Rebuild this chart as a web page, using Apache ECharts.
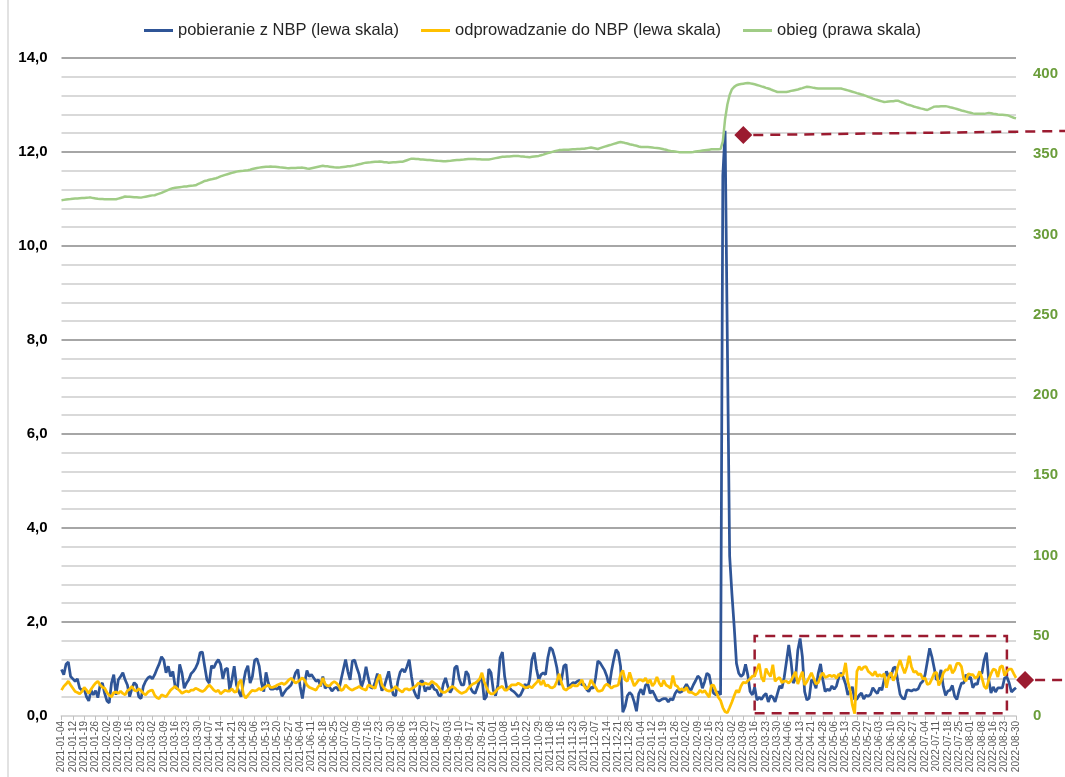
<!DOCTYPE html>
<html>
<head>
<meta charset="utf-8">
<script src="https://cdn.jsdelivr.net/npm/echarts@6/dist/echarts.min.js"></script>
<style>
  html, body { margin: 0; padding: 0; background: #fff; }
  #chart { width: 1065px; height: 777px; }
</style>
</head>
<body>
<div id="chart"></div>
<script>
// dni robocze NBP 2021-01-04 .. 2022-08-30 (bez weekendów i świąt)
const startDate = '2021-01-04';
const endDate = '2022-08-30';
const holidays = ['2021-01-01', '2021-01-06', '2021-04-05', '2021-05-03', '2021-06-03', '2021-11-01', '2021-11-11',
  '2022-01-06', '2022-04-18', '2022-05-03', '2022-06-16', '2022-08-15'];

// pobieranie z NBP (mld zł, lewa skala)
const pobieranie = [
  0.99, 0.88, 1.1, 1.15, 0.84, 0.79, 0.74, 0.79, 0.59, 0.55,
  0.57, 0.41, 0.32, 0.55, 0.45, 0.54, 0.39, 0.66, 0.7, 0.48,
  0.32, 0.28, 0.7, 0.88, 0.45, 0.77, 0.84, 0.92, 0.77, 0.66,
  0.41, 0.59, 0.71, 0.66, 0.41, 0.37, 0.63, 0.74, 0.81, 0.84,
  0.79, 0.88, 1.0, 1.11, 1.26, 1.19, 0.92, 1.06, 0.84, 0.95,
  0.63, 0.57, 1.1, 0.92, 0.59, 0.7, 0.77, 0.9, 0.95, 1.02,
  1.13, 1.35, 1.36, 1.06, 0.77, 0.7, 1.07, 1.02, 1.13, 1.2,
  1.1, 0.79, 0.99, 1.02, 0.55, 0.77, 1.06, 0.66, 0.52, 0.41,
  0.7, 0.95, 1.07, 0.7, 0.84, 1.19, 1.22, 1.06, 0.7, 0.52,
  0.93, 0.7, 0.57, 0.57, 0.59, 0.57, 0.63, 0.42, 0.5, 0.57,
  0.61, 0.66, 0.77, 0.92, 0.99, 0.63, 0.37, 0.7, 0.97, 0.84,
  0.88, 0.81, 0.74, 0.77, 0.63, 0.84, 0.59, 0.64, 0.61, 0.53,
  0.59, 0.61, 0.54, 0.77, 0.99, 1.2, 0.95, 0.77, 1.17, 1.19,
  1.02, 0.88, 0.61, 0.77, 1.05, 0.81, 0.61, 0.59, 0.72, 0.9,
  0.74, 0.54, 0.63, 0.79, 0.95, 0.66, 0.45, 0.43, 0.74, 0.93,
  1.0, 0.93, 1.05, 1.2, 0.84, 0.55, 0.43, 0.37, 0.74, 0.74,
  0.52, 0.61, 0.57, 0.68, 0.57, 0.55, 0.44, 0.43, 0.68, 0.81,
  0.63, 0.5, 0.59, 1.02, 1.07, 0.79, 0.66, 0.66, 0.95, 0.88,
  0.59, 0.51, 0.48, 0.61, 0.76, 0.84, 0.35, 0.41, 1.0, 0.92,
  0.55, 0.43, 0.66, 1.24, 1.36, 0.84, 0.57, 0.61, 0.55, 0.52,
  0.47, 0.41, 0.45, 0.55, 0.68, 0.59, 0.77, 1.2, 1.35, 1.0,
  0.77, 0.88, 0.92, 0.88, 1.24, 1.46, 1.41, 1.24, 1.02, 0.66,
  0.77, 1.06, 1.1, 0.61, 0.66, 0.71, 0.7, 0.74, 0.76, 0.66,
  0.68, 0.57, 0.52, 0.61, 0.59, 0.81, 1.17, 1.13, 1.05, 0.97,
  0.84, 0.63, 0.95, 1.2, 1.41, 1.35, 1.06, 0.08, 0.2, 0.43,
  0.5, 0.45, 0.3, 0.1, 0.47, 0.57, 0.45, 0.66, 0.68, 0.48,
  0.54, 0.45, 0.34, 0.32, 0.35, 0.37, 0.37, 0.3, 0.37, 0.34,
  0.48, 0.55, 0.5, 0.52, 0.59, 0.68, 0.59, 0.55, 0.66, 0.75,
  0.85, 0.8, 0.59, 0.73, 0.91, 0.87, 0.62, 0.48, 0.45, 0.52,
  0.45, 11.5, 12.45, 7.9, 3.4, 2.6, 1.9, 1.12, 0.91, 0.84,
  0.89, 1.1, 0.87, 0.52, 0.45, 0.61, 0.34, 0.4, 0.35, 0.43,
  0.48, 0.3, 0.43, 0.4, 0.3, 0.47, 0.64, 0.59, 0.82, 1.16,
  1.51, 1.16, 0.7, 0.8, 1.4, 1.65, 1.26, 0.52, 0.34, 0.38,
  0.77, 0.73, 0.59, 0.91, 1.11, 0.77, 0.52, 0.57, 0.54, 0.64,
  0.57, 0.64, 0.82, 0.92, 0.82, 0.68, 0.45, 0.54, 0.62, 0.35,
  0.36, 0.44, 0.49, 0.36, 0.44, 0.42, 0.46, 0.6, 0.53, 0.48,
  0.6, 0.55, 0.77, 0.95, 0.83, 0.83, 1.02, 1.04, 0.74, 0.46,
  0.38, 0.36, 0.55, 0.55, 0.53, 0.56, 0.55, 0.58, 0.69, 0.74,
  0.88, 1.16, 1.44, 1.26, 1.02, 0.77, 0.79, 0.98, 0.63, 0.44,
  0.53, 0.55, 0.65, 0.42, 0.35, 0.55, 0.7, 0.7, 0.88, 0.79,
  0.83, 0.6, 0.69, 0.67, 0.9, 0.91, 1.19, 1.35, 0.77, 0.49,
  0.62, 0.51, 0.6, 0.6, 0.6, 0.81, 0.83, 0.7, 0.51, 0.56,
  0.6
];

// odprowadzanie do NBP (mld zł, lewa skala)
const odprowadzanie = [
  0.55, 0.63, 0.68, 0.74, 0.66, 0.59, 0.52, 0.5, 0.47, 0.52,
  0.61, 0.55, 0.48, 0.57, 0.64, 0.7, 0.74, 0.66, 0.61, 0.59,
  0.5, 0.44, 0.41, 0.5, 0.51, 0.48, 0.53, 0.48, 0.45, 0.54,
  0.57, 0.63, 0.55, 0.53, 0.58, 0.54, 0.48, 0.45, 0.51, 0.54,
  0.55, 0.44, 0.39, 0.37, 0.45, 0.43, 0.41, 0.48, 0.55, 0.59,
  0.63, 0.58, 0.54, 0.48, 0.51, 0.53, 0.51, 0.55, 0.55, 0.59,
  0.57, 0.54, 0.52, 0.55, 0.61, 0.66, 0.61, 0.55, 0.52, 0.55,
  0.47, 0.51, 0.55, 0.53, 0.53, 0.58, 0.51, 0.52, 0.71, 0.77,
  0.47, 0.38, 0.44, 0.5, 0.55, 0.53, 0.55, 0.59, 0.55, 0.6,
  0.63, 0.66, 0.61, 0.61, 0.63, 0.66, 0.68, 0.7, 0.67, 0.71,
  0.77, 0.8, 0.76, 0.7, 0.73, 0.77, 0.81, 0.76, 0.66, 0.61,
  0.59, 0.57, 0.55, 0.63, 0.66, 0.81, 0.68, 0.64, 0.64, 0.7,
  0.73, 0.7, 0.64, 0.54, 0.57, 0.66, 0.61, 0.57, 0.55, 0.58,
  0.6, 0.63, 0.59, 0.57, 0.55, 0.66, 0.64, 0.61, 0.59, 0.77,
  0.88, 0.66, 0.59, 0.55, 0.53, 0.54, 0.57, 0.63, 0.58, 0.54,
  0.51, 0.57, 0.58, 0.55, 0.58, 0.61, 0.64, 0.7, 0.68, 0.67,
  0.7, 0.68, 0.68, 0.74, 0.7, 0.67, 0.61, 0.53, 0.5, 0.51,
  0.55, 0.6, 0.63, 0.6, 0.55, 0.51, 0.48, 0.5, 0.52, 0.59,
  0.64, 0.68, 0.7, 0.74, 0.79, 0.92, 0.73, 0.61, 0.51, 0.47,
  0.47, 0.52, 0.58, 0.61, 0.63, 0.55, 0.55, 0.61, 0.66, 0.66,
  0.66, 0.7, 0.67, 0.64, 0.6, 0.61, 0.63, 0.6, 0.66, 0.71,
  0.77, 0.66, 0.76, 0.64, 0.66, 0.61, 0.6, 0.63, 0.74, 0.9,
  0.7, 0.58, 0.55, 0.59, 0.61, 0.66, 0.64, 0.64, 0.7, 0.77,
  0.64, 0.57, 0.63, 0.77, 0.68, 0.61, 0.53, 0.53, 0.55, 0.64,
  0.68, 0.64, 0.59, 0.63, 0.64, 0.66, 0.88, 0.97, 0.77, 0.74,
  0.93, 0.77, 0.64, 0.7, 0.77, 0.77, 0.74, 0.81, 0.7, 0.77,
  0.64, 0.7, 0.83, 0.7, 0.63, 0.76, 0.66, 0.63, 0.59, 0.86,
  0.66, 0.63, 0.55, 0.58, 0.54, 0.61, 0.5, 0.51, 0.48, 0.45,
  0.48, 0.55, 0.5, 0.54, 0.47, 0.4, 0.66, 0.65, 0.52, 0.4,
  0.33, 0.18, 0.09, 0.07, 0.18, 0.3, 0.43, 0.55, 0.5, 0.64,
  0.72, 0.7, 0.75, 0.79, 0.85, 0.85, 0.99, 1.11, 0.82, 0.73,
  1.01, 0.91, 0.84, 1.09, 0.74, 0.79, 0.82, 0.71, 0.74, 0.74,
  0.7, 0.75, 0.85, 0.94, 0.68, 0.82, 0.94, 0.66, 0.73, 0.82,
  0.92, 0.8, 0.68, 0.71, 0.84, 0.92, 0.82, 0.84, 0.87, 0.84,
  0.87, 0.8, 0.89, 0.85, 0.89, 1.13, 0.73, 0.55, 0.23, 0.05,
  0.95, 1.05, 0.98, 1.04, 1.05, 0.95, 0.91, 0.86, 0.95, 0.84,
  0.88, 0.84, 0.9, 0.6, 0.83, 0.93, 0.75, 0.86, 1.05, 1.19,
  1.04, 0.91, 1.05, 1.28, 1.05, 0.93, 0.95, 0.88, 0.9, 0.79,
  0.81, 0.67, 0.69, 0.79, 0.91, 0.93, 0.65, 0.74, 0.91, 0.98,
  0.98, 1.09, 0.91, 0.98, 1.12, 1.12, 1.05, 0.79, 0.74, 0.9,
  0.88, 0.88, 0.81, 0.83, 0.95, 0.81, 0.63, 0.58, 0.77, 0.9,
  1.0, 0.98, 0.83, 1.04, 1.07, 0.86, 0.95, 1.0, 1.0, 0.9,
  0.81
];

// obieg (mld zł, prawa skala)
const obieg = [
  321.4, 321.6, 321.8, 322.0, 322.1, 322.3, 322.4, 322.5, 322.6, 322.7,
  322.8, 322.9, 323.0, 323.0, 322.7, 322.5, 322.3, 322.2, 322.1, 322.0,
  322.0, 322.0, 322.0, 322.0, 322.0, 322.4, 322.8, 323.2, 323.7, 323.6,
  323.5, 323.4, 323.3, 323.2, 323.1, 323.0, 323.3, 323.6, 323.9, 324.2,
  324.4, 324.5, 325.0, 325.5, 326.0, 326.6, 327.2, 327.8, 328.4, 328.9,
  329.1, 329.3, 329.5, 329.7, 329.9, 330.0, 330.2, 330.4, 330.5, 330.7,
  331.4, 332.0, 332.7, 333.4, 333.7, 334.1, 334.4, 334.8, 335.1, 335.6,
  336.2, 336.7, 337.2, 337.6, 338.0, 338.4, 338.8, 339.2, 339.4, 339.6,
  339.7, 339.9, 340.1, 340.4, 340.8, 341.1, 341.4, 341.7, 341.9, 342.1,
  342.3, 342.3, 342.4, 342.3, 342.3, 342.1, 341.9, 341.8, 341.6, 341.4,
  341.3, 341.4, 341.5, 341.5, 341.6, 341.6, 341.7, 341.5, 341.2, 341.0,
  341.3, 341.6, 341.9, 342.2, 342.5, 342.8, 342.6, 342.5, 342.3, 342.1,
  341.9, 341.8, 341.7, 341.9, 342.1, 342.3, 342.5, 342.6, 342.8, 343.1,
  343.5, 343.8, 344.1, 344.5, 344.8, 344.9, 345.0, 345.2, 345.3, 345.4,
  345.5, 345.3, 345.1, 345.0, 344.8, 344.9, 345.0, 345.1, 345.2, 345.3,
  345.3, 345.8, 346.3, 346.8, 347.3, 347.2, 347.1, 347.0, 346.8, 346.7,
  346.6, 346.5, 346.4, 346.3, 346.1, 346.0, 345.9, 345.8, 345.7, 345.6,
  345.8, 345.9, 346.1, 346.3, 346.4, 346.5, 346.6, 346.7, 346.9, 347.0,
  347.0, 347.0, 347.0, 346.9, 346.9, 346.8, 346.8, 346.7, 346.7, 347.0,
  347.3, 347.6, 347.9, 348.2, 348.4, 348.5, 348.6, 348.7, 348.8, 348.9,
  349.0, 348.9, 348.7, 348.6, 348.4, 348.3, 348.2, 348.4, 348.6, 348.8,
  349.0, 349.4, 349.8, 350.3, 350.7, 351.1, 351.5, 351.9, 352.3, 352.6,
  352.7, 352.8, 352.9, 352.9, 353.0, 353.1, 353.2, 353.3, 353.3, 353.4,
  353.5, 353.7, 354.0, 354.2, 353.9, 353.6, 353.3, 353.8, 354.3, 354.8,
  355.2, 355.6, 356.0, 356.5, 356.9, 357.3, 357.7, 357.4, 357.0, 356.7,
  356.3, 356.0, 355.6, 355.3, 354.9, 354.6, 354.6, 354.5, 354.5, 354.4,
  354.2, 354.0, 353.9, 353.7, 353.5, 353.1, 352.8, 352.4, 352.1, 351.9,
  351.7, 351.5, 351.3, 351.2, 351.2, 351.2, 351.2, 351.2, 351.4, 351.7,
  351.9, 352.1, 352.3, 352.5, 352.7, 352.9, 353.1, 353.1, 353.1, 353.1,
  353.3, 358.0, 372.0, 381.0, 387.0, 390.5, 392.0, 393.0, 393.5, 393.8,
  394.0, 394.2, 394.4, 394.2, 393.9, 393.6, 393.2, 392.8, 392.3, 391.9,
  391.4, 391.0, 390.5, 389.9, 389.4, 388.8, 388.8, 388.8, 388.8, 388.8,
  389.1, 389.5, 389.8, 390.1, 390.4, 390.8, 391.2, 391.7, 392.1, 391.9,
  391.7, 391.4, 391.2, 391.0, 391.0, 391.0, 391.0, 391.0, 391.0, 391.0,
  391.0, 391.0, 391.0, 391.0, 390.6, 390.2, 389.8, 389.4, 389.0, 388.6,
  388.1, 387.7, 387.3, 386.9, 386.4, 385.8, 385.3, 384.7, 384.2, 383.8,
  383.4, 383.0, 382.6, 382.7, 382.9, 383.0, 383.1, 383.3, 383.4, 382.8,
  382.3, 381.7, 381.1, 380.7, 380.3, 379.8, 379.4, 379.0, 378.6, 378.3,
  377.9, 377.6, 378.3, 379.0, 379.7, 379.8, 379.8, 379.9, 379.9, 380.0,
  379.7, 379.3, 379.0, 378.6, 378.2, 377.8, 377.3, 377.0, 376.6, 376.2,
  375.9, 375.5, 375.2, 375.2, 375.2, 375.2, 375.2, 375.5, 375.8, 375.6,
  375.3, 375.1, 374.8, 374.7, 374.6, 374.5, 374.4, 373.9, 373.3, 372.8,
  372.4
];

// adnotacje: ramka (indeksy dni, lewa skala) i znaczniki (prawa skala)
const boxFrom = 305, boxTo = 416, boxLow = 0.06, boxHigh = 1.7;
const markTop = { idx: 300, val: 362, endIdx: 442, endVal: 364.5 };
const markLow = { idx: 423.5, val: 22.4, endIdx: 442 };

const holidaySet = new Set(holidays);
const dates = [];
for (let d = new Date(startDate + 'T00:00:00Z'); d <= new Date(endDate + 'T00:00:00Z'); d.setUTCDate(d.getUTCDate() + 1)) {
  const wd = d.getUTCDay();
  const s = d.toISOString().slice(0, 10);
  if (wd === 0 || wd === 6 || holidaySet.has(s)) continue;
  dates.push(s);
}

const FONT = 'Liberation Sans, Arial, sans-serif';
const RED = '#9b1b30';
const chart = echarts.init(document.getElementById('chart'));

chart.setOption({
  animation: false,
  textStyle: { fontFamily: FONT },
  legend: {
    top: 17,
    left: 'center',
    icon: 'rect',
    itemWidth: 29,
    itemHeight: 3,
    itemGap: 22,
    textStyle: { fontSize: 16.5, color: '#262626', fontFamily: FONT },
    data: ['pobieranie z NBP (lewa skala)', 'odprowadzanie do NBP (lewa skala)', 'obieg (prawa skala)']
  },
  grid: { left: 61.5, right: 49, top: 58, bottom: 61 },
  xAxis: {
    type: 'category',
    boundaryGap: false,
    data: dates,
    axisLine: { lineStyle: { color: '#d9d9d9', width: 2 } },
    axisTick: { show: true, interval: 4, length: 4, lineStyle: { color: '#bfbfbf' } },
    axisLabel: { interval: 4, rotate: 90, fontSize: 10, color: '#595959', margin: 5, fontFamily: FONT },
    splitLine: { show: false }
  },
  yAxis: [
    {
      type: 'value', min: 0, max: 14, interval: 2,
      axisLine: { show: false }, axisTick: { show: false },
      axisLabel: { fontSize: 15, fontWeight: 'bold', color: '#000', margin: 14, fontFamily: FONT,
        formatter: v => v.toFixed(1).replace('.', ',') },
      splitLine: { lineStyle: { color: '#a6a6a6', width: 2 } },
      minorTick: { show: false, splitNumber: 5 },
      minorSplitLine: { show: true, lineStyle: { color: '#d9d9d9', width: 2 } }
    },
    {
      type: 'value', min: 0, max: 410, interval: 50,
      axisLine: { show: false }, axisTick: { show: false },
      axisLabel: { fontSize: 15, fontWeight: 'bold', color: '#6a9d3a', margin: 17, showMaxLabel: false, fontFamily: FONT },
      splitLine: { show: false }
    }
  ],
  series: [
    {
      name: 'pobieranie z NBP (lewa skala)', type: 'line', yAxisIndex: 0, data: pobieranie,
      symbol: 'none', color: '#2f5597', lineStyle: { width: 2.75, color: '#2f5597' },
      markArea: {
        silent: true,
        itemStyle: { color: 'rgba(0,0,0,0)', borderColor: RED, borderWidth: 2.5, borderType: [10, 7] },
        data: [[{ xAxis: dates[boxFrom], yAxis: boxLow }, { xAxis: dates[boxTo], yAxis: boxHigh }]]
      }
    },
    {
      name: 'odprowadzanie do NBP (lewa skala)', type: 'line', yAxisIndex: 0, data: odprowadzanie,
      symbol: 'none', color: '#ffc000', lineStyle: { width: 2.75, color: '#ffc000' }
    },
    {
      name: 'obieg (prawa skala)', type: 'line', yAxisIndex: 1, data: obieg,
      symbol: 'none', color: '#a0cc86', lineStyle: { width: 2.5, color: '#a0cc86' }
    }
  ]
});

// znaczniki rombowe + przerywane linie (pozycje z osi wykresu)
const toPx = (i, v) => chart.convertToPixel({ xAxisIndex: 0, yAxisIndex: 1 }, [i, v]);
const t0 = toPx(markTop.idx, markTop.val), t1 = toPx(markTop.endIdx, markTop.endVal);
const l0 = toPx(markLow.idx, markLow.val), l1 = toPx(markLow.endIdx, markLow.val);
const diamond = (c) => ({
  type: 'polygon', z: 100,
  shape: { points: [[c[0], c[1] - 9], [c[0] + 9, c[1]], [c[0], c[1] + 9], [c[0] - 9, c[1]]] },
  style: { fill: RED }
});
const dashed = (a, b) => ({
  type: 'line', z: 99,
  shape: { x1: a[0] + 10, y1: a[1], x2: b[0], y2: b[1] },
  style: { stroke: RED, lineWidth: 2.5, lineDash: [10, 7] }
});
chart.setOption({
  graphic: [
    { type: 'line', shape: { x1: 8, y1: 0, x2: 8, y2: 777 }, style: { stroke: '#d9d9d9', lineWidth: 1.5 } },
    dashed(t0, t1), diamond(t0),
    dashed(l0, l1), diamond(l0)
  ]
});
</script>
</body>
</html>
